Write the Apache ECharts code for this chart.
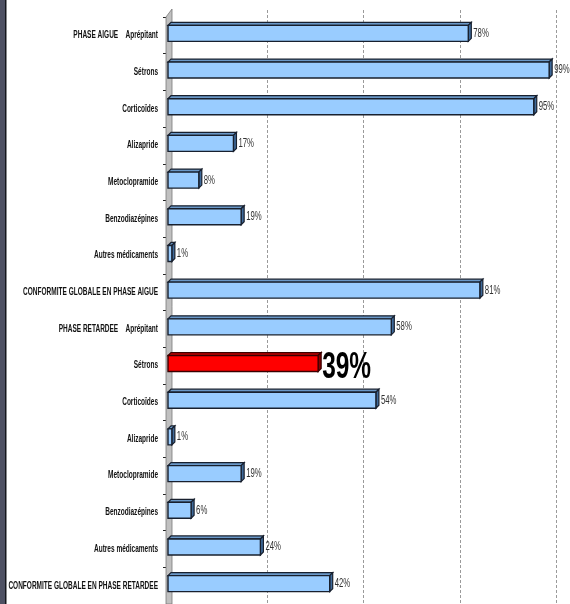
<!DOCTYPE html>
<html>
<head>
<meta charset="utf-8">
<script src="https://cdn.jsdelivr.net/npm/echarts@6/dist/echarts.min.js"></script>
<style>
  html, body { margin: 0; padding: 0; background: #ffffff; }
  #chart { width: 570px; height: 604px; }
</style>
</head>
<body>
<div id="chart"></div>
<script>
// Treatment categories, top to bottom (acute phase, then delayed phase)
const categories = [
  'PHASE AIGUE    Aprépitant',
  'Sétrons',
  'Corticoïdes',
  'Alizapride',
  'Metoclopramide',
  'Benzodiazépines',
  'Autres médicaments',
  'CONFORMITE GLOBALE EN PHASE AIGUE',
  'PHASE RETARDEE    Aprépitant',
  'Sétrons',
  'Corticoïdes',
  'Alizapride',
  'Metoclopramide',
  'Benzodiazépines',
  'Autres médicaments',
  'CONFORMITE GLOBALE EN PHASE RETARDEE'
];

// Conformity rate (%) for each category
const values = [78, 99, 95, 17, 8, 19, 1, 81, 58, 39, 54, 1, 19, 6, 24, 42];

// Row drawn in red with an enlarged label
const highlightIndex = 9;

// Percentage scale
const axisMin = 0;
const axisMax = 100;
const axisStep = 25;

const labelFont = '"Liberation Sans", Arial, sans-serif';

const normalColors = { front: '#99ccff', top: '#6a98c8', side: '#3f6a9a', line: '#18202e' };
const hotColors = { front: '#ff0000', top: '#c00000', side: '#8a0000', line: '#3a0000' };

const chart = echarts.init(document.getElementById('chart'), null, { renderer: 'canvas' });

// 3D-looking horizontal bar: front face, top face and right side face
function renderBar(params, api) {
  const value = api.value(0);
  const idx = api.value(1);
  const start = api.coord([axisMin, idx]);
  const end = api.coord([value, idx]);
  const cy = start[1] - 2;
  const half = 8;
  const depth = 3;
  const x0 = start[0];
  const x1 = end[0];
  const y0 = cy - half;
  const y1 = cy + half;
  const hot = idx === highlightIndex;
  const c = hot ? hotColors : normalColors;
  const pct = value + '%';
  return {
    type: 'group',
    children: [
      {
        type: 'polygon',
        shape: { points: [[x0, y0], [x1, y0], [x1 + depth, y0 - depth], [x0 + depth, y0 - depth]] },
        style: { fill: c.top, stroke: c.line, lineWidth: 1.2 }
      },
      {
        type: 'polygon',
        shape: { points: [[x1, y0], [x1 + depth, y0 - depth], [x1 + depth, y1 - depth], [x1, y1]] },
        style: { fill: c.side, stroke: c.line, lineWidth: 1.2 }
      },
      {
        type: 'rect',
        shape: { x: x0, y: y0, width: x1 - x0, height: y1 - y0 },
        style: { fill: c.front, stroke: c.line, lineWidth: 1.4 }
      },
      hot ? {
        type: 'text',
        x: x1 + depth + 1,
        y: cy + 4,
        scaleX: 0.66,
        style: {
          text: pct,
          font: 'bold 37px ' + labelFont,
          fill: '#000000',
          align: 'left',
          verticalAlign: 'middle'
        }
      } : {
        type: 'text',
        x: x1 + depth + 2,
        y: cy,
        scaleX: 0.62,
        style: {
          text: pct,
          font: '12.5px ' + labelFont,
          fill: '#333333',
          align: 'left',
          verticalAlign: 'middle'
        }
      }
    ]
  };
}

// Condensed category labels to the left of the axis
function renderCategory(params, api) {
  const idx = api.value(1);
  const p = api.coord([axisMin, idx]);
  return {
    type: 'text',
    x: p[0] - 10,
    y: p[1],
    scaleX: 0.62,
    style: {
      text: categories[idx],
      font: 'bold 10.5px ' + labelFont,
      fill: '#111111',
      align: 'right',
      verticalAlign: 'middle'
    }
  };
}

const barData = values.map((v, i) => [v, i]);

chart.setOption({
  animation: false,
  backgroundColor: '#ffffff',
  grid: [
    { left: 168, right: 17, top: 17, height: 593, containLabel: false },
    { left: 171, right: 14, top: 10, height: 600, containLabel: false }
  ],
  xAxis: [
    { type: 'value', gridIndex: 0, min: axisMin, max: axisMax, interval: axisStep, show: false },
    {
      type: 'value', gridIndex: 1, min: axisMin, max: axisMax, interval: axisStep,
      axisLine: { show: false }, axisTick: { show: false }, axisLabel: { show: false },
      splitLine: { show: true, lineStyle: { color: '#9a9a9a', type: [3, 2], width: 1 } }
    }
  ],
  yAxis: [
    {
      type: 'category', gridIndex: 0, data: categories, inverse: true, offset: 2,
      axisLine: { show: true, lineStyle: { color: '#222222', width: 1 } },
      axisTick: { show: true, length: 5, lineStyle: { color: '#222222' } },
      axisLabel: { show: false },
      splitLine: { show: false }
    },
    { type: 'category', gridIndex: 1, data: categories, show: false }
  ],
  graphic: [
    // dark frame strip on the left
    { type: 'rect', shape: { x: 0, y: 0, width: 5, height: 604 }, style: { fill: '#4e5163' }, z: 1 },
    { type: 'rect', shape: { x: 5, y: 0, width: 1.5, height: 604 }, style: { fill: '#15171d' }, z: 1 },
    // grey side wall of the 3D plot
    {
      type: 'polygon',
      shape: { points: [[166, 17], [172, 9], [172, 604], [166, 604]] },
      style: { fill: '#c0c0c0', stroke: '#7a7a7a', lineWidth: 0.8 },
      z: 1
    }
  ],
  series: [
    {
      type: 'custom',
      name: 'labels',
      xAxisIndex: 0,
      yAxisIndex: 0,
      renderItem: renderCategory,
      data: barData,
      clip: false,
      z: 3,
      silent: true
    },
    {
      type: 'custom',
      name: 'conformite',
      xAxisIndex: 0,
      yAxisIndex: 0,
      renderItem: renderBar,
      data: barData,
      clip: false,
      z: 4,
      silent: true
    }
  ]
});
</script>
</body>
</html>
